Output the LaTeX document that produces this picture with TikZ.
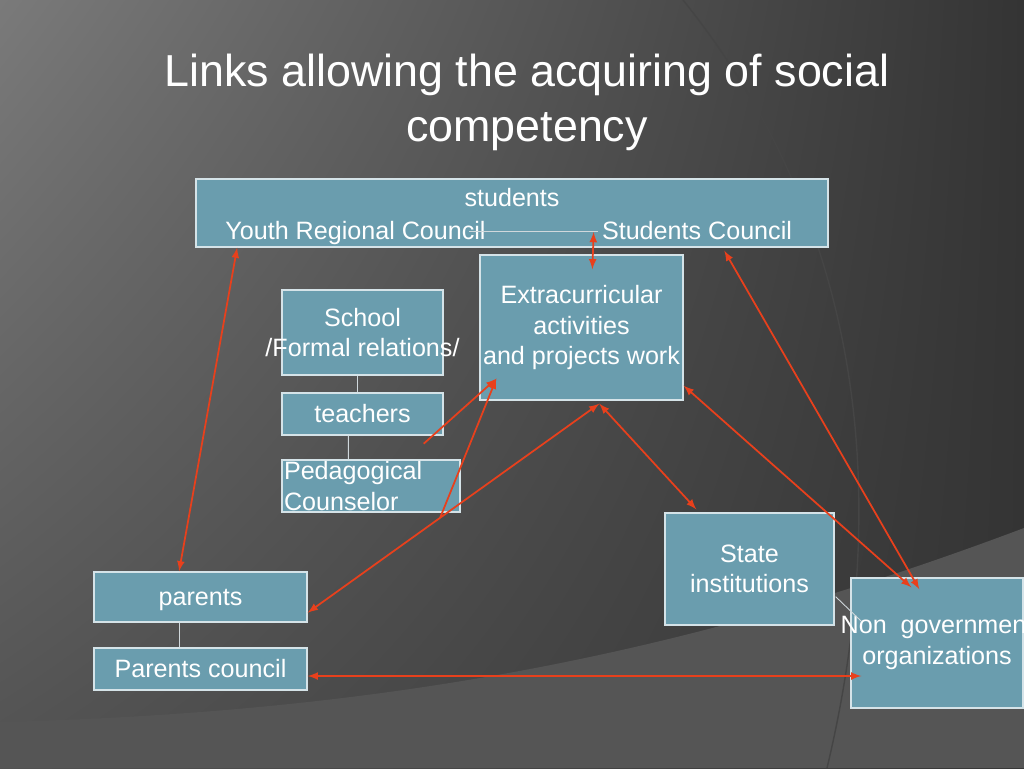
\documentclass[tikz,border=0pt]{standalone}
\usepackage{fontspec}
\setmainfont{Liberation Sans}
\usetikzlibrary{arrows,calc,shadings}

\definecolor{boxblue}{HTML}{6A9DAE}
\definecolor{boxline}{HTML}{D5E3E8}
\definecolor{linkred}{HTML}{E8401C}
\definecolor{tieline}{HTML}{D0D8DC}
\definecolor{bgA}{HTML}{7A7A7A}
\definecolor{bgC}{HTML}{525252}
\definecolor{bgB}{HTML}{343434}
\definecolor{bgband}{HTML}{555555}
\definecolor{bgarc}{HTML}{454545}

\begin{document}
\begin{tikzpicture}[x=0.02cm,y=-0.02cm]
    \tikzset{box/.style = {shape=rectangle, draw=boxline, line width=0.8pt, fill=boxblue, text=white, inner sep=0pt, align=center, font=\fontsize{14.3}{17.2}\selectfont}}
    \tikzset{lbl/.style = {text=white, inner sep=0pt, font=\fontsize{14.3}{17.2}\selectfont}}
    \tikzset{title/.style = {text=white, align=center, inner sep=0pt, font=\fontsize{25.5}{31.3}\selectfont}}
    \tikzset{link/.style = {draw=linkred, line width=1pt, >=latex}}
    \tikzset{tie/.style = {draw=tieline, line width=0.5pt}}

    % background
    \useasboundingbox (0,0) rectangle (1024,768);
    \begin{scope}
    \clip (0,0) rectangle (1024,768);
    \shade[upper left=bgA, lower left=bgC, upper right=bgB, lower right=bgB] (0,0) rectangle (1024,768);
    \fill[bgband] (0,722) .. controls (400,712) and (700,650) .. (1024,528) -- (1024,768) -- (0,768) -- cycle;
    \draw[bgarc, line width=0.8pt] (683,0) .. controls (820,170) and (910,420) .. (827,768);
    \end{scope}

    % title
    \node[title] (ttl) at (527,102) {Links allowing the acquiring of social\\competency};

    % boxes
    \node[box, minimum width=12.64cm, minimum height=1.36cm] (stu) at (512,213) {};
    \node[lbl] (stx) at (512,198) {students};
    \node[lbl, anchor=base] (yrc) at (355.5,239) {Youth Regional Council};
    \node[lbl, anchor=base] (scl) at (697,239) {Students Council};
    \node[box, minimum width=4.06cm, minimum height=2.9cm] (ext) at (581.5,327.5) {Extracurricular\\activities\\and projects work};
    \node[box, minimum width=3.22cm, minimum height=1.7cm] (sch) at (362.5,332.5) {School\\\makebox[0pt]{/Formal relations/}};
    \node[box, minimum width=3.22cm, minimum height=0.84cm] (tea) at (362.5,414) {teachers};
    \node[box, minimum height=1.04cm, text width=3.48cm, inner xsep=0.04cm, align=left] (ped) at (371,486) {Pedagogical\\Counselor};
    \node[box, minimum width=4.26cm, minimum height=1.0cm, text depth=0pt] (par) at (200.5,597) {parents};
    \node[box, minimum width=4.26cm, minimum height=0.84cm] (pco) at (200.5,669) {Parents council};
    \node[box, minimum width=3.38cm, minimum height=2.24cm] (sta) at (749.5,569) {State\\institutions};
    \node[box, minimum width=3.44cm, minimum height=2.6cm] (ngo) at (937,643) {\makebox[0pt]{Non\ \ government}\\organizations};

    % ties
    \draw[tie] ($(yrc.base east)+(-17,-8)$) -- ($(scl.base west)+(-4,-8)$);
    \draw[tie] ($(sch.south west)+(76,0)$) -- ($(tea.north west)+(76,0)$);
    \draw[tie] ($(tea.south west)+(67,0)$) -- ($(ped.north west)+(67,0)$);
    \draw[tie] ($(par.south west)+(86,0)$) -- ($(pco.north west)+(86,0)$);
    \draw[tie] ($(sta.south east)+(1,-29)$) -- ($(ngo.north west)+(11,44)$);

    % links
    \draw[link,<->] ($(stu.south west)!0.066!(stu.south east)$) -- ($(par.north west)!0.4!(par.north east)$);
    \draw[link,<->] ($(scl.base west)+(-8,-7)$) -- ($(ext.north west)+(113,15)$);
    \draw[link,->] ($(tea.south east)+(-20,8)$) -- ($(ext.south west)+(17,-22)$);
    \draw[link,<->] ($(par.south east)+(0,-10)$) -- coordinate[pos=0.454] (fork) ($(ext.south west)+(120,3)$);
    \draw[link,->] (fork) -- ($(ext.south west)+(17,-22)$);
    \draw[link,<->] ($(ext.south west)+(120,3)$) -- ($(sta.north west)+(32,-3)$);
    \draw[link,<->] ($(ext.south east)+(0,-15)$) -- ($(ngo.north west)+(61,10)$);
    \draw[link,<->] ($(stu.south west)+(529,3)$) -- ($(ngo.north west)+(69,12)$);
    \draw[link,<->] ($(pco.east)+(0,7)$) -- ($(ngo.west)+(11,33)$);
\end{tikzpicture}
\end{document}
